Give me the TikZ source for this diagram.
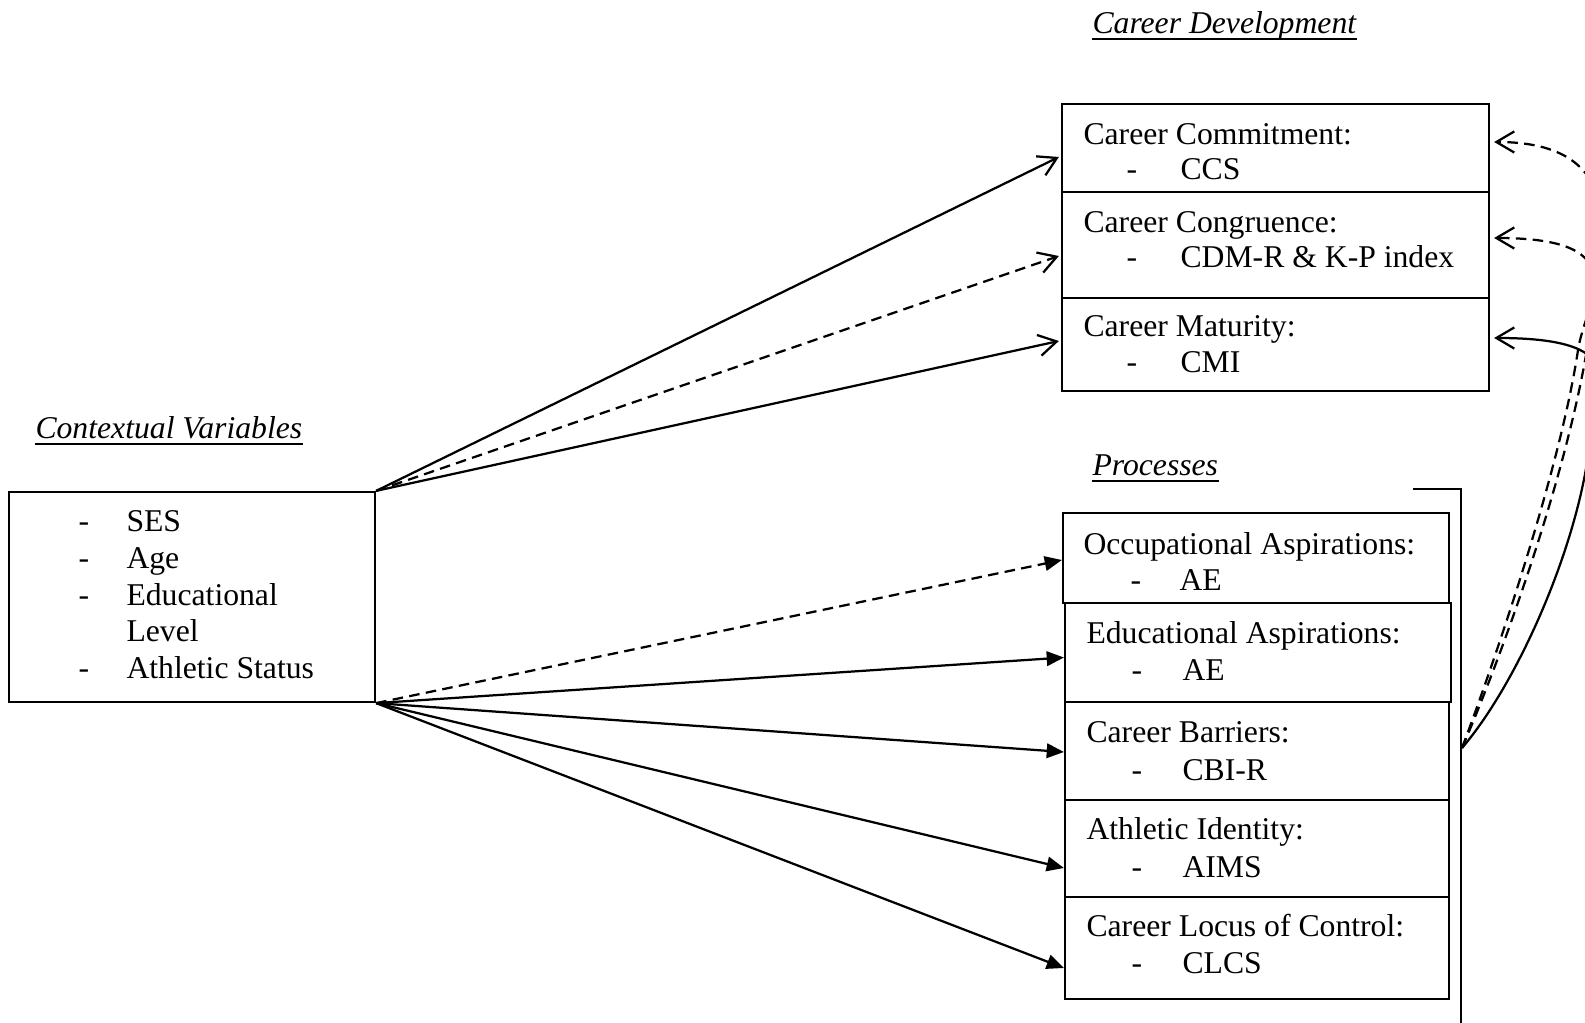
\documentclass[tikz,border=0pt]{standalone}
\usepackage{fontspec}
\setmainfont{Liberation Serif}
\usetikzlibrary{arrows.meta,calc,fit}

\begin{document}
\begin{tikzpicture}[x=0.3788pt,y=-0.3788pt,
  box/.style={draw,line width=0.85pt,inner sep=0pt},
  txt/.style={anchor=base west,inner sep=0pt,font=\fontsize{12pt}{13.8pt}\selectfont},
  ttl/.style={anchor=base west,inner sep=0pt,font=\fontsize{12pt}{13.8pt}\selectfont\itshape},
  conn/.style={line width=0.85pt},
  dsh/.style={dash pattern=on 4pt off 2.4pt},
  openhead/.style={-{Straight Barb[length=6.8pt,width=8pt]}},
  solidhead/.style={-{Triangle[length=6.5pt,width=5.5pt]}},
  uline/.style={line width=0.85pt}
]
\useasboundingbox (0,0) rectangle (1585,1023);
\clip (0,0) rectangle (1585,1023);

% ---------- titles ----------
\node[ttl] (tCD) at (1092,34) {Career Development};
\draw[uline] ($(tCD.base west)+(0,5)$) -- ($(tCD.base east)+(0,5)$);
\node[ttl] (tCV) at (35,439) {Contextual Variables};
\draw[uline] ($(tCV.base west)+(0,5)$) -- ($(tCV.base east)+(0,5)$);
\node[ttl] (tPR) at (1092,476) {Processes};
\draw[uline] ($(tPR.base west)+(0,5)$) -- ($(tPR.base east)+(0,5)$);

% ---------- contextual variables ----------
\node[box,fit={(9,492) (375,702)}] (ctx) {};
\node[txt] (cv1d) at (78,532) {-};   \node[txt] (cv1) at (126,532) {SES};
\node[txt] (cv2d) at (78,568.6) {-}; \node[txt] (cv2) at (126,568.6) {Age};
\node[txt] (cv3d) at (78,605) {-};   \node[txt] (cv3) at (126,605) {Educational};
\node[txt] (cv4) at (126,641.6) {Level};
\node[txt] (cv5d) at (78,678) {-};   \node[txt] (cv5) at (126,678) {Athletic Status};

% ---------- career development ----------
\node[box,fit={(1062,104) (1489,192)}] (cc) {};
\node[box,fit={(1062,192) (1489,298)}] (cg) {};
\node[box,fit={(1062,298) (1489,391)}] (cm) {};
\node[txt] (ccA) at (1083,145) {Career Commitment:};
\node[txt] (ccD) at (1126,180) {-}; \node[txt] (ccB) at (1180,180) {CCS};
\node[txt] (cgA) at (1083,233) {Career Congruence:};
\node[txt] (cgD) at (1126,268) {-}; \node[txt] (cgB) at (1180,268) {CDM-R \& K-P index};
\node[txt] (cmA) at (1083,337) {Career Maturity:};
\node[txt] (cmD) at (1126,373) {-}; \node[txt] (cmB) at (1180,373) {CMI};

% ---------- processes ----------
\node[box,fit={(1063,513) (1449,603)}] (oa) {};
\node[box,fit={(1065,603) (1451,702)}] (ea) {};
\node[box,fit={(1065,702) (1449,800)}] (cb) {};
\node[box,fit={(1065,800) (1449,897)}] (ai) {};
\node[box,fit={(1065,897) (1449,999)}] (cl) {};
\node[txt] (oaA) at (1083,554) {Occupational Aspirations:};
\node[txt] (oaD) at (1130,590) {-}; \node[txt] (oaB) at (1179,590) {AE};
\node[txt] (eaA) at (1086,643) {Educational Aspirations:};
\node[txt] (eaD) at (1131,680) {-}; \node[txt] (eaB) at (1182,680) {AE};
\node[txt] (cbA) at (1086,742) {Career Barriers:};
\node[txt] (cbD) at (1131,780) {-}; \node[txt] (cbB) at (1182,780) {CBI-R};
\node[txt] (aiA) at (1086,839) {Athletic Identity:};
\node[txt] (aiD) at (1131,877) {-}; \node[txt] (aiB) at (1182,877) {AIMS};
\node[txt] (clA) at (1086,936) {Career Locus of Control:};
\node[txt] (clD) at (1131,973) {-}; \node[txt] (clB) at (1182,973) {CLCS};

% bracket beside the process boxes
\draw[conn] (1413,489) -- (1461,489) -- (1461,1030);
\coordinate (join) at (1462,748);

% ---------- paths to career development ----------
\draw[conn,openhead] (ctx.north east) -- ($(cc.west)+(-2,9)$);
\draw[conn,openhead,dsh] (ctx.north east) -- ($(cg.west)+(-2,11)$);
\draw[conn,openhead] (ctx.north east) -- ($(cm.west)+(-2,-3.5)$);

% ---------- paths to processes ----------
\draw[conn,solidhead,dsh] (ctx.south east) -- ($(oa.west)+(0,2)$);
\draw[conn,solidhead] (ctx.south east) -- ($(ea.west)+(0,5)$);
\draw[conn,solidhead] (ctx.south east) -- ($(cb.west)+(0,1)$);
\draw[conn,solidhead] (ctx.south east) -- ($(ai.west)+(0,19.5)$);
\draw[conn,solidhead] (ctx.south east) -- ($(cl.west)+(0,20)$);

% ---------- feedback from processes ----------
\draw[conn,openhead,dsh] (join) .. controls (1500,660) and (1570,470) .. (1590,330)
  .. controls (1600,260) and (1640,142) .. ($(cc.east)+(4,-6)$);
\draw[conn,openhead,dsh] (join) .. controls (1495,660) and (1560,470) .. (1578,350)
  .. controls (1585,302) and (1640,238) .. ($(cg.east)+(4,-7)$);
\draw[conn,openhead] (join) .. controls (1520,680) and (1580,540) .. (1590,440)
  .. controls (1595,390) and (1640,338) .. ($(cm.east)+(4,-6.5)$);
\end{tikzpicture}
\end{document}
